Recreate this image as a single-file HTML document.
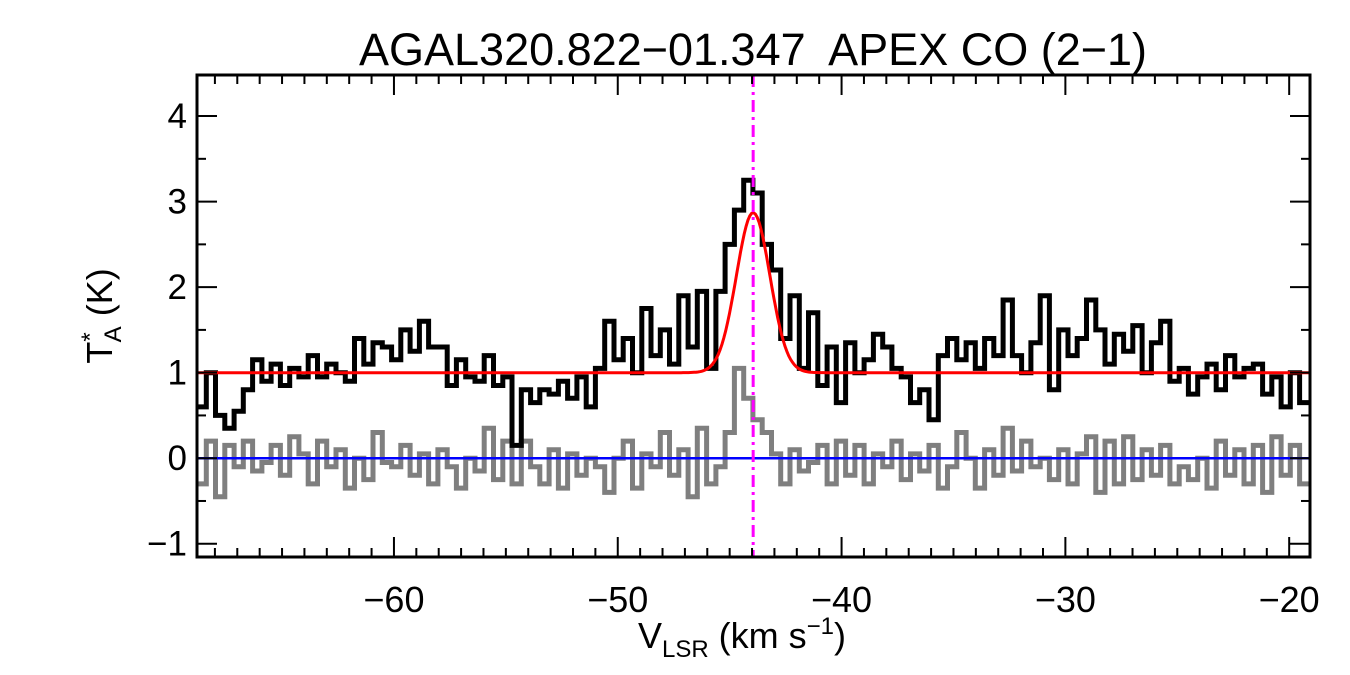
<!DOCTYPE html>
<html><head><meta charset="utf-8">
<style>
html,body{margin:0;padding:0;background:#fff;}
svg{display:block;font-family:"Liberation Sans",Arial,sans-serif;}
</style></head>
<body>
<svg id="chart" width="1350" height="675" viewBox="0 0 1350 675"></svg>
<script>
// ---- data ----
const vStart = -68.8;       // velocity of first channel edge (km/s)
const vStep = 0.414;        // channel width (km/s)
const spectrumValues = [0.6,1.0,0.5,0.35,0.55,0.8,1.15,0.9,1.1,0.85,1.05,0.95,1.2,0.95,1.1,1.0,0.9,1.4,1.1,1.35,1.3,1.15,1.5,1.25,1.6,1.3,1.3,0.85,1.15,0.95,0.9,1.2,0.85,0.95,0.15,0.8,0.65,0.8,0.75,0.9,0.7,0.95,0.6,1.05,1.6,1.15,1.4,1.0,1.75,1.2,1.5,1.1,1.9,1.3,1.95,1.05,1.95,2.5,2.9,3.25,3.1,2.5,2.2,1.4,1.9,1.05,1.7,0.85,1.3,0.65,1.35,1.0,1.15,1.45,1.3,1.05,0.95,0.65,0.8,0.45,1.2,1.4,1.15,1.35,1.05,1.4,1.2,1.85,1.2,1.0,1.35,1.9,0.8,1.5,1.2,1.4,1.85,1.5,1.1,1.45,1.25,1.55,1.0,1.35,1.6,0.9,1.05,0.75,0.95,1.1,0.8,1.2,0.95,1.05,1.1,0.75,0.95,0.6,1.0,0.65];
const residualValues = [-0.3,0.2,-0.45,0.15,-0.1,0.2,-0.15,-0.05,0.15,-0.2,0.25,0.05,-0.3,0.2,-0.1,0.1,-0.35,0.0,-0.25,0.3,-0.05,-0.1,0.15,-0.2,0.05,-0.3,0.1,-0.1,-0.35,0.0,-0.15,0.35,-0.25,0.2,-0.3,0.2,-0.1,-0.3,0.1,-0.35,0.05,-0.2,0.0,-0.1,-0.4,0.0,0.2,-0.35,0.05,-0.1,0.3,-0.2,0.1,-0.45,0.35,-0.3,-0.1,0.3,1.05,0.7,0.45,0.3,0.05,-0.3,0.1,-0.15,-0.05,0.15,-0.3,0.2,-0.2,0.15,-0.3,0.05,-0.1,0.2,-0.25,0.05,-0.15,0.15,-0.35,-0.1,0.3,0.0,-0.35,0.1,-0.2,0.35,-0.15,0.2,-0.1,0.0,-0.25,0.1,-0.3,0.05,0.25,-0.4,0.2,-0.3,0.25,-0.25,0.1,-0.2,0.15,-0.3,-0.1,-0.25,0.0,-0.35,0.2,-0.2,0.1,-0.3,0.15,-0.4,0.25,-0.2,0.15,-0.3];
const fitBaseline = 1.0;
const fitAmplitude = 1.87;
const fitCenter = -43.95;
const fitSigma = 0.75;
const xTickLabels = [-60,-50,-40,-30,-20];
const yTickLabels = [-1,0,1,2,3,4];

// ---- axes ----
const L=197,R=1310,T=75,B=557;
const xMin=-68.8,xMax=-19.07,yMin=-1.155,yMax=4.48;
const X=v=>L+(v-xMin)/(xMax-xMin)*(R-L);
const Y=v=>B-(v-yMin)/(yMax-yMin)*(B-T);
const NS='http://www.w3.org/2000/svg';
const svg=document.getElementById('chart');
function mk(tag,attrs,parent){const e=document.createElementNS(NS,tag);for(const k in attrs)e.setAttribute(k,attrs[k]);(parent||svg).appendChild(e);return e;}

const defs=mk('clipPath',{id:'clip'});mk('rect',{x:L,y:T,width:R-L,height:B-T},defs);
const plot=mk('g',{'clip-path':'url(#clip)'});



function stepPath(vals){
  let d='';
  vals.forEach((v,i)=>{const x0=X(vStart+i*vStep),x1=X(vStart+(i+1)*vStep),y=Y(v);
    d+=(i===0?'M':'L')+x0.toFixed(1)+','+y.toFixed(1)+'L'+x1.toFixed(1)+','+y.toFixed(1);});
  return d;
}
const res=mk('path',{d:stepPath(residualValues),fill:'none',stroke:'#7f7f7f','stroke-width':5},plot);


const zero=mk('line',{x1:L,x2:R,y1:Y(0),y2:Y(0),stroke:'#0000ff','stroke-width':2.5},plot);


const spec=mk('path',{d:stepPath(spectrumValues),fill:'none',stroke:'#000','stroke-width':5},plot);


let fd='';
for(let i=0;i<=600;i++){const v=xMin+(xMax-xMin)*i/600;const y=fitBaseline+fitAmplitude*Math.exp(-0.5*Math.pow((v-fitCenter)/fitSigma,2));fd+=(i?'L':'M')+X(v).toFixed(1)+','+Y(y).toFixed(1);}
const fit=mk('path',{d:fd,fill:'none',stroke:'#ff0000','stroke-width':3},plot);


const vline=mk('line',{x1:X(fitCenter),x2:X(fitCenter),y1:T,y2:B,stroke:'#ff00ff','stroke-width':3,'stroke-dasharray':'12,5,3,5'});



// frame
const frame=mk('rect',{x:L,y:T,width:R-L,height:B-T,fill:'none',stroke:'#000','stroke-width':3});



// x ticks
for(let v=Math.ceil(xMin);v<=xMax;v++){
  const major=v%10===0,len=major?20:9,x=X(v);
  mk('line',{x1:x,x2:x,y1:B,y2:B-len,stroke:'#000','stroke-width':2});
  mk('line',{x1:x,x2:x,y1:T,y2:T+len,stroke:'#000','stroke-width':2});
}
xTickLabels.forEach(v=>{const t=mk('text',{x:X(v),y:B+55,'text-anchor':'middle','font-size':36});t.textContent=String(v).replace('-','\u2212');
  
  });
// y ticks
for(let k=-2;k<=9;k++){const v=k*0.5;if(v<yMin||v>yMax)continue;const major=k%2===0,len=major?20:9,y=Y(v);
  mk('line',{x1:L,x2:L+len,y1:y,y2:y,stroke:'#000','stroke-width':2});
  mk('line',{x1:R,x2:R-len,y1:y,y2:y,stroke:'#000','stroke-width':2});}
yTickLabels.forEach(v=>{const t=mk('text',{x:L-10,y:Y(v)+12,'text-anchor':'end','font-size':35});t.textContent=String(v).replace('-','\u2212');
  
  });

// titles
const title=mk('text',{x:753,y:65,'text-anchor':'middle','font-size':45,style:'white-space:pre'});
title.textContent='AGAL320.822\u221201.347  APEX CO (2\u22121)';


const xt=mk('text',{x:742,y:648,'text-anchor':'middle','font-size':36});
xt.innerHTML='V<tspan font-size="24" dy="9">LSR</tspan><tspan dy="-9"> (km s</tspan><tspan font-size="24" dy="-14">\u22121</tspan><tspan dy="14">)</tspan>';


const yt=mk('text',{x:0,y:0,'text-anchor':'middle','font-size':36,transform:'translate(112,316) rotate(-90)'});
yt.innerHTML='T<tspan font-size="24" dy="-14">*</tspan><tspan font-size="24" dx="-10" dy="23">A</tspan><tspan dy="-9"> (K)</tspan>';


</script>
</body></html>
